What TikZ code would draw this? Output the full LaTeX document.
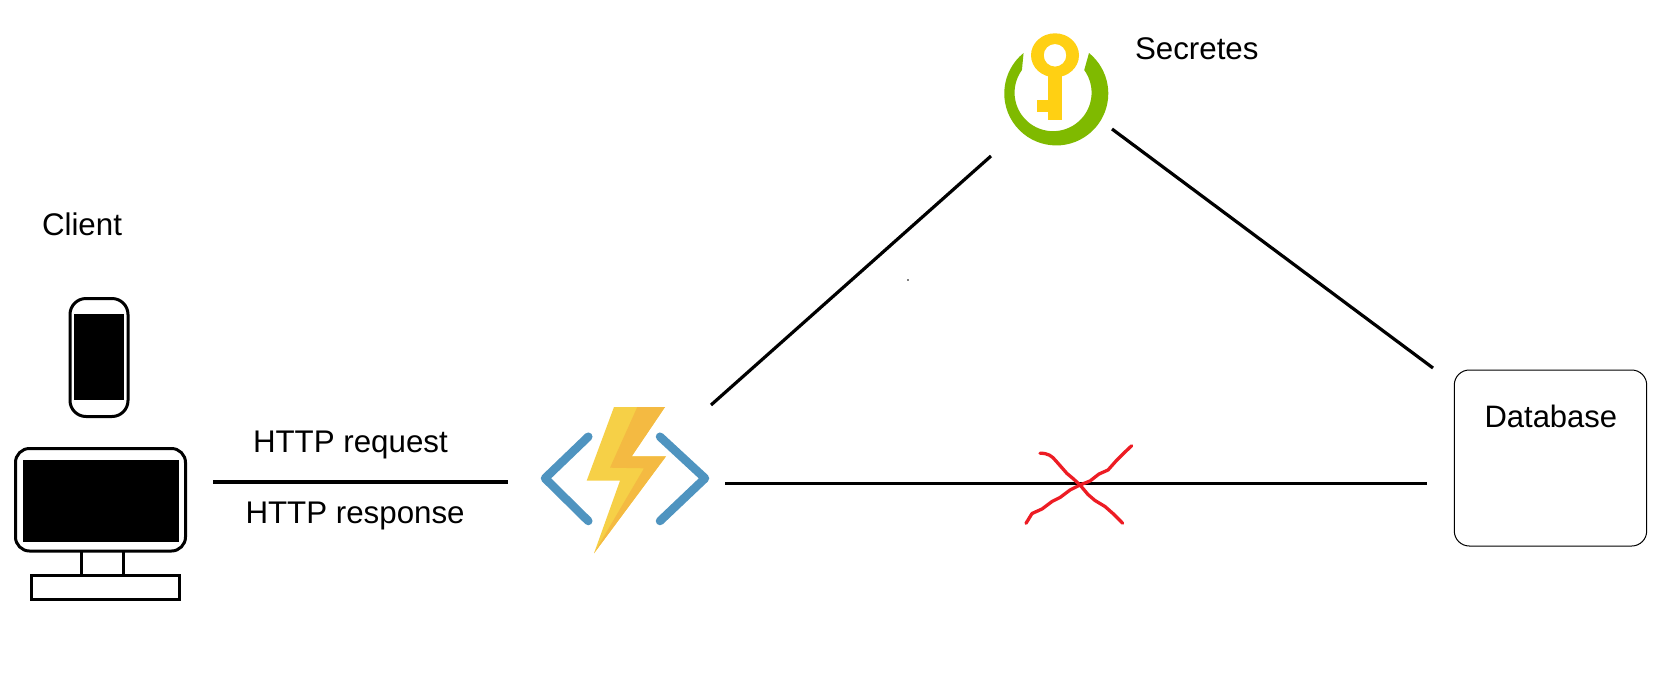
\documentclass[tikz,border=0pt]{standalone}
\usepackage{fontspec}
\setmainfont{Liberation Sans}
\definecolor{keyyellow}{HTML}{FFD013}
\definecolor{ringgreen}{HTML}{7FBA00}
\definecolor{bracketblue}{HTML}{4F94C0}
\definecolor{boltlight}{HTML}{F6D047}
\definecolor{boltdark}{HTML}{F4BA42}
\definecolor{crossred}{HTML}{ED1C24}
\tikzset{
  lbl/.style={inner sep=0pt,outer sep=0pt,anchor=base west,font=\fontsize{31.3}{36}\selectfont},
  conn/.style={line width=3.2pt,black},
  outl/.style={line width=3pt,black},
  bracket/.style={line width=8.5pt,bracketblue,line cap=round,line join=round},
  crossink/.style={line width=3.3pt,crossred,line cap=round,line join=round},
}
\begin{document}
\begin{tikzpicture}[x=1pt,y=-1pt]
\useasboundingbox (0,0) rectangle (1666,686);
\fill[white] (0,0) rectangle (1666,686);
% labels
\node[lbl] (client) at (42,235) {Client};
\node[lbl] (req) at (253,452) {HTTP request};
\node[lbl] (resp) at (245.5,523) {HTTP response};
\node[lbl] (secret) at (1135,59.5) {Secretes};
% phone
\draw[outl,rounded corners=16pt] (70,298.5) rectangle (128,416.5);
\fill (74,314) rectangle (124,400);
% monitor
\draw[outl,rounded corners=14pt] (15.5,448.5) rectangle (185.5,551);
\fill (22.7,460) rectangle (179.3,542.3);
\draw[outl] (81.5,551) -- (81.5,575) (123.5,551) -- (123.5,575);
\draw[outl] (31.5,575.5) rectangle (179.5,599.5);
% function icon
\draw[bracket] (588.3,436.7) -- (545,478.3) -- (588.3,521);
\draw[bracket] (660,436.7) -- (705,478.3) -- (660,521);
\fill[boltlight] (614,407) -- (665,407) -- (631.7,456.3) -- (666,456.3) -- (594,553.3) -- (620,480.7) -- (586.7,480.7) -- cycle;
\fill[boltdark] (637.3,407) -- (665,407) -- (631.7,456.3) -- (666,456.3) -- (594,553.3) -- (600,543) -- (644,468.3) -- (610,467.7) -- cycle;
% key
\begin{scope}[even odd rule]
\fill[keyyellow] (1055,55.3) ellipse [x radius=24,y radius=22] (1055,55.3) circle [radius=11.3];
\end{scope}
\fill[keyyellow] (1048,74) rectangle (1062,120);
\fill[keyyellow] (1037,100) rectangle (1048,111.7);
% ring
\begin{scope}[shift={(1054.7,91.5)},x=1pt,y=1pt]
\fill[ringgreen] (129:49.5pt) arc[start angle=129,end angle=411,radius=52pt]
  -- (36:36.5pt) arc[start angle=36,end angle=-216,radius=38.5pt] -- cycle;
\end{scope}
% database
\node[draw,line width=1pt,rounded corners=15pt,minimum width=192.4pt,minimum height=176pt,inner sep=0pt,outer sep=0pt] (db) at (1550.5,458) {};
\node[lbl,font=\fontsize{31}{36}\selectfont] (dblabel) at (1484.5,427) {Database};
% connector ends
\coordinate (a1) at (213,482);
\coordinate (a2) at (508,482);
\coordinate (b1) at (725,483.5);
\coordinate (b2) at (1427,483.5);
\coordinate (c1) at (711,405);
\coordinate (c2) at (991,156);
\coordinate (d1) at (1112,129);
\coordinate (d2) at (1433,368);
\draw[conn] (a1) -- (a2);
\draw[conn] (b1) -- (b2);
\draw[conn] (c1) -- (c2);
\draw[conn] (d1) -- (d2);
\fill (908,280) circle [radius=0.8];
% red cross
\draw[crossink] (1040,453.3) .. controls (1048,453) and (1052,456) .. (1056,461) -- (1067,473.5) -- (1073,478.5) -- (1080,485) -- (1088,494.5) -- (1095,500.5) -- (1105,506.5) -- (1113.5,514) -- (1122.7,523.3);
\draw[crossink] (1026,523.3) -- (1032,513.5) -- (1042,509) -- (1052,501.5) -- (1060,497.5) -- (1070,490) -- (1080,485) -- (1090,481) -- (1099,474) -- (1108,470) -- (1116,461) -- (1125,452) -- (1131.7,445.7);
\end{tikzpicture}
\end{document}
